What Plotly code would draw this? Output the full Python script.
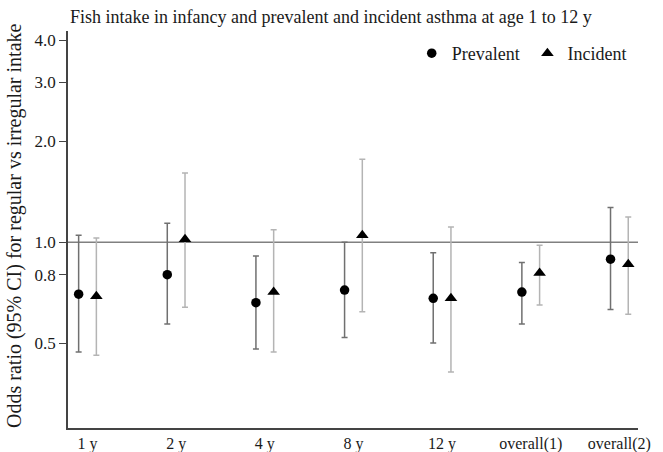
import plotly.graph_objects as go

categories = ["1 y", "2 y", "4 y", "8 y", "12 y", "overall(1)", "overall(2)"]
prev_or = [0.70, 0.80, 0.66, 0.72, 0.68, 0.71, 0.89]
prev_lo = [0.47, 0.57, 0.48, 0.52, 0.50, 0.57, 0.63]
prev_hi = [1.05, 1.14, 0.91, 1.00, 0.93, 0.87, 1.27]
inc_or = [0.69, 1.02, 0.71, 1.05, 0.68, 0.81, 0.86]
inc_lo = [0.46, 0.64, 0.47, 0.62, 0.41, 0.65, 0.61]
inc_hi = [1.03, 1.61, 1.09, 1.77, 1.11, 0.98, 1.19]
y_ticks = [0.5, 0.8, 1.0, 2.0, 3.0, 4.0]

FONT = "Liberation Serif, Times New Roman, serif"
TXT = "#1a1a1a"
off = 0.1
xs = list(range(len(categories)))

fig = go.Figure()
fig.add_trace(go.Scatter(
    x=[x - off for x in xs], y=prev_or, mode="markers", name="Prevalent",
    legend="legend",
    marker=dict(symbol="circle", size=9.5, color="black"),
    error_y=dict(type="data", symmetric=False,
                 array=[h - v for h, v in zip(prev_hi, prev_or)],
                 arrayminus=[v - l for v, l in zip(prev_or, prev_lo)],
                 color="#707070", thickness=1.5, width=3),
))
fig.add_trace(go.Scatter(
    x=[x + off for x in xs], y=inc_or, mode="markers", name="Incident",
    legend="legend2",
    marker=dict(symbol="triangle-up", size=11, color="black"),
    error_y=dict(type="data", symmetric=False,
                 array=[h - v for h, v in zip(inc_hi, inc_or)],
                 arrayminus=[v - l for v, l in zip(inc_or, inc_lo)],
                 color="#b4b4b4", thickness=1.5, width=3),
))

fig.add_shape(type="line", xref="paper", yref="y", x0=0, x1=1, y0=1.0, y1=1.0,
              line=dict(color="#808080", width=1.5), layer="below")

fig.add_annotation(text="Fish intake in infancy and prevalent and incident asthma at age 1 to 12 y",
                   xref="paper", yref="paper", x=0, y=1.035, xanchor="left", yanchor="middle",
                   showarrow=False, font=dict(family=FONT, size=18, color=TXT))
fig.add_annotation(text="Odds ratio (95% CI) for regular vs irregular intake",
                   xref="paper", yref="paper", x=-0.093, y=0.509, xanchor="center",
                   yanchor="middle", textangle=-90, showarrow=False,
                   font=dict(family=FONT, size=20, color=TXT))

leg_common = dict(orientation="h", xanchor="left", yanchor="top",
                  font=dict(family=FONT, size=18, color=TXT),
                  bgcolor="rgba(0,0,0,0)", itemwidth=30)

fig.update_layout(
    width=663, height=452,
    margin=dict(l=68, r=25, t=31, b=24, autoexpand=False),
    paper_bgcolor="white", plot_bgcolor="white",
    font=dict(family=FONT, size=16, color=TXT),
    showlegend=True,
    legend=dict(x=0.603, y=0.99, **leg_common),
    legend2=dict(x=0.806, y=0.99, **leg_common),
    xaxis=dict(tickmode="array", tickvals=xs, ticktext=categories,
               range=[-0.22, 6.21], showgrid=False, zeroline=False,
               showline=True, linecolor="#444", linewidth=1.5, ticks="",
               automargin=False,
               tickfont=dict(family=FONT, size=16, color=TXT)),
    yaxis=dict(type="log", range=[-0.5544, 0.6304], tickmode="array",
               tickvals=y_ticks, ticktext=[f"{v:.1f}" for v in y_ticks],
               showgrid=False, zeroline=False, showline=True, linecolor="#444",
               linewidth=1.5, ticks="outside", ticklen=7, tickcolor="#444",
               automargin=False,
               tickfont=dict(family=FONT, size=17, color=TXT)),
)

fig.write_html("out.html", config={"displayModeBar": False},
               post_script="document.body.style.margin='0';")
